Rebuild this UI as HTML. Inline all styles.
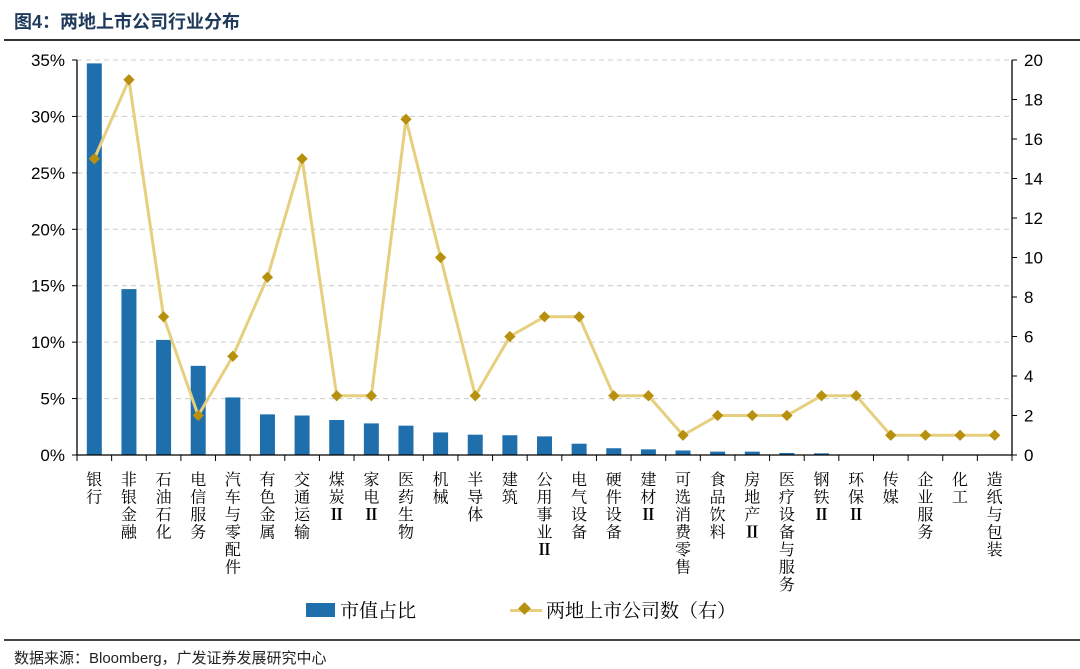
<!DOCTYPE html>
<html><head><meta charset="utf-8"><style>
body{margin:0;background:#fff;width:1080px;height:669px;overflow:hidden;font-family:"Liberation Sans","Noto Sans CJK SC",sans-serif}
</style></head><body>
<div style="position:absolute;left:14px;top:8px;font-size:18px;font-weight:bold;color:#1f3a5a;font-family:'Liberation Sans','Noto Sans CJK SC',sans-serif">图4：两地上市公司行业分布</div>
<div style="position:absolute;left:4px;top:39px;width:1076px;height:2px;background:#333"></div>
<svg width="1080" height="669" style="position:absolute;left:0;top:0" id="s">
</svg>
<div style="position:absolute;left:306px;top:603px;width:29px;height:14px;background:#1f6fad"></div>
<div style="position:absolute;left:340px;top:596px;font-size:19px;font-family:'Noto Serif CJK SC','Noto Serif CJK JP',serif">市值占比</div>
<div style="position:absolute;left:510px;top:609px;width:32px;height:3px;background:#e6cf7e"></div>
<div style="position:absolute;left:520px;top:604px;width:9px;height:9px;background:#b8900f;transform:rotate(45deg)"></div>
<div style="position:absolute;left:546px;top:596px;font-size:19px;font-family:'Noto Serif CJK SC','Noto Serif CJK JP',serif">两地上市公司数（右）</div>
<div style="position:absolute;left:4px;top:639px;width:1076px;height:2px;background:#444"></div>
<div style="position:absolute;left:14px;top:647px;font-size:15px;color:#222">数据来源：Bloomberg，广发证券发展研究中心</div>
<script>
const cats=["银行","非银金融","石油石化","电信服务","汽车与零配件","有色金属","交通运输","煤炭Ⅱ","家电Ⅱ","医药生物","机械","半导体","建筑","公用事业Ⅱ","电气设备","硬件设备","建材Ⅱ","可选消费零售","食品饮料","房地产Ⅱ","医疗设备与服务","钢铁Ⅱ","环保Ⅱ","传媒","企业服务","化工","造纸与包装"];
const bars=[34.7,14.7,10.2,7.9,5.1,3.6,3.5,3.1,2.8,2.6,2.0,1.8,1.75,1.65,1.0,0.6,0.5,0.4,0.3,0.3,0.18,0.15,0,0,0,0,0];
const line=[15,19,7,2,5,9,15,3,3,17,10,3,6,7,7,3,3,1,2,2,2,3,3,1,1,1,1];
const L=77,R=1012,T=60,B=455,w=(R-L)/27;
let s='';
for(let i=0;i<=7;i++){const y=B-(B-T)*i/7;
 if(i>0)s+=`<line x1="${L}" y1="${y}" x2="${R}" y2="${y}" stroke="#ccc" stroke-dasharray="5,4"/>`;
 s+=`<line x1="${L-5}" y1="${y}" x2="${L}" y2="${y}" stroke="#000"/><text x="${L-12}" y="${y+6}" text-anchor="end" font-size="17">${i*5}%</text>`;}
for(let i=0;i<=10;i++){const y=B-(B-T)*i/10;
 s+=`<line x1="${R}" y1="${y}" x2="${R+5}" y2="${y}" stroke="#000"/><text x="${R+12}" y="${y+6}" font-size="17">${i*2}</text>`;}
for(let i=0;i<27;i++){const cx=L+w*(i+.5),h=bars[i]*(B-T)/35;
 if(h>0)s+=`<rect x="${cx-7.5}" y="${B-h}" width="15" height="${h}" fill="#1f6fad"/>`;}
for(let i=0;i<=27;i++){const x=L+w*i;s+=`<line x1="${x}" y1="${B}" x2="${x}" y2="${B+6}" stroke="#000"/>`;}
s+=`<line x1="${L}" y1="${T}" x2="${L}" y2="${B}" stroke="#000" stroke-width="1.3"/><line x1="${R}" y1="${T}" x2="${R}" y2="${B}" stroke="#000" stroke-width="1.3"/><line x1="${L}" y1="${B}" x2="${R}" y2="${B}" stroke="#000" stroke-width="1.3"/>`;
const pts=line.map((v,i)=>[L+w*(i+.5),B-v*(B-T)/20]);
s+=`<polyline points="${pts.map(p=>p.join(',')).join(' ')}" fill="none" stroke="#e6cf7e" stroke-width="3"/>`;
pts.forEach(p=>s+=`<rect x="${p[0]-4}" y="${p[1]-4}" width="8" height="8" fill="#b8900f" transform="rotate(45 ${p[0]} ${p[1]})"/>`);
cats.forEach((c,i)=>{const cx=L+w*(i+.5);[...c].forEach((ch,k)=>{
 const b=ch==='Ⅱ'?' font-weight="bold" font-family="Liberation Serif,serif"':'';
 s+=`<text x="${cx}" y="${485+17.5*k}" text-anchor="middle" font-size="16" font-family="Noto Serif CJK SC,Noto Serif CJK JP,serif"${b}>${ch}</text>`;});});
document.getElementById('s').innerHTML=s;
</script>
</body></html>
